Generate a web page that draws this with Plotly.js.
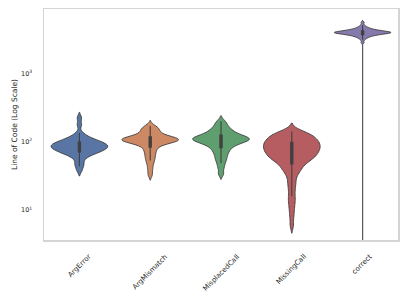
<!DOCTYPE html>
<html>
<head>
<meta charset="utf-8">
<script src="https://cdn.plot.ly/plotly-3.0.1.min.js"></script>
<style>html,body{margin:0;padding:0;background:#fff;}#chart{width:407px;height:305px;}</style>
</head>
<body>
<div id="chart"></div>
<script>
// ---- data (lines of code per sample) ----
const categories = ['ArgError', 'ArgMismatch', 'MisplacedCall', 'MissingCall', 'correct'];

const argError = [38, 44, 48, 54, 59, 63, 65, 67, 69, 71, 72, 74, 75, 77, 78, 79, 81, 82, 83, 85,
  86, 87, 89, 90, 91, 93, 95, 96, 98, 100, 102, 105, 108, 111, 116, 122, 135, 178, 224];

const argMismatch = [33, 40, 47, 53, 58, 63, 69, 74, 79, 85, 89, 93, 95, 98, 100, 101, 102, 104,
  105, 106, 107, 108, 110, 111, 112, 114, 115, 118, 120, 123, 129, 135, 141, 148, 155, 162, 170];

const misplacedCall = [34, 42, 49, 55, 60, 66, 71, 76, 81, 85, 89, 92, 96, 98, 100, 102, 105, 107,
  108, 110, 111, 112, 115, 117, 120, 123, 126, 130, 135, 141, 148, 155, 166, 182, 200];

const missingCall = [6, 8, 10, 12, 14, 16, 19, 22, 25, 28, 32, 35, 37, 39, 41, 44, 45, 47, 49, 51, 53,
  54, 55, 57, 58, 59, 60, 61, 63, 64, 65, 67, 68, 70, 71, 72, 73, 75, 76, 77, 79,
  80, 82, 83, 84, 86, 88, 89, 91, 92, 94, 96, 97, 99, 101, 103, 104, 106, 108, 111, 113,
  116, 119, 122, 124, 127, 130, 133, 135, 138, 143];

const correct = [1, 2, 2838, 3118, 3266, 3357, 3427, 3492, 3548, 3590, 3623, 3656, 3698, 3724,
  3750, 3776, 3802, 3819, 3837, 3859, 3882, 3900, 3913, 3930, 3946, 3960, 3974, 3988, 4002,
  4016, 4033, 4050, 4065, 4083, 4107, 4131, 4150, 4169, 4198, 4227, 4256, 4286, 4336, 4376,
  4417, 4467, 4539, 4624, 4721, 4853, 5080, 5581];

const seriesValues = [argError, argMismatch, misplacedCall, missingCall, correct];

const yTickValues = [10, 100, 1000];
const yTickLabels = ['10<sup>1</sup>', '10<sup>2</sup>', '10<sup>3</sup>'];

// ---- style ----
const colors = ['#5875A3', '#CC8963', '#5F9E6E', '#B55D60', '#857AAB'];
const bandwidths = [0.04, 0.04, 0.04, 0.058, 0.015]; // in log10 units
const edge = '#404040';
const font = 'DejaVu Sans, sans-serif';

const traces = categories.map((cat, i) => ({
  type: 'violin',
  x: seriesValues[i].map(() => cat),
  y: seriesValues[i].map(v => Math.log10(v)),
  name: cat,
  fillcolor: colors[i],
  line: {color: edge, width: 0.9},
  opacity: 1,
  width: 0.8,
  scalemode: 'width',
  spanmode: 'soft',
  bandwidth: bandwidths[i],
  points: false,
  box: {visible: true, width: 0.04, fillcolor: edge, line: {color: edge, width: 1.1}},
  meanline: {visible: false},
  hoverinfo: 'skip',
  showlegend: false
}));

const annotations = categories.map(cat => ({
  x: cat, xref: 'x', y: 0, yref: 'paper',
  xanchor: 'center', yanchor: 'top', yshift: -10,
  text: cat, textangle: -45, showarrow: false,
  font: {family: font, size: 7, color: '#262626'}
}));

const layout = {
  width: 407, height: 305,
  margin: {l: 44, r: 9, t: 9, b: 65, pad: 0},
  paper_bgcolor: '#fff', plot_bgcolor: '#fff',
  violinmode: 'overlay',
  showlegend: false,
  font: {family: font, size: 7, color: '#262626'},
  xaxis: {
    type: 'category', categoryorder: 'array', categoryarray: categories,
    range: [-0.5, 4.5], showticklabels: false, ticks: '',
    showgrid: false, zeroline: false,
    showline: true, mirror: true, linecolor: '#d4d4d4', linewidth: 1.5
  },
  yaxis: {
    range: [0.562, 3.944],
    tickvals: yTickValues.map(v => Math.log10(v)),
    ticktext: yTickLabels,
    ticks: '', ticklabelstandoff: 9,
    tickfont: {family: font, size: 6.5, color: '#262626'},
    showgrid: false, zeroline: false,
    showline: true, mirror: true, linecolor: '#d4d4d4', linewidth: 1.5,
    title: {text: 'Line of Code (Log Scale)', standoff: 2, font: {family: font, size: 7.5, color: '#262626'}}
  },
  annotations: annotations
};

Plotly.newPlot('chart', traces, layout, {staticPlot: true, displayModeBar: false});
</script>
</body>
</html>
